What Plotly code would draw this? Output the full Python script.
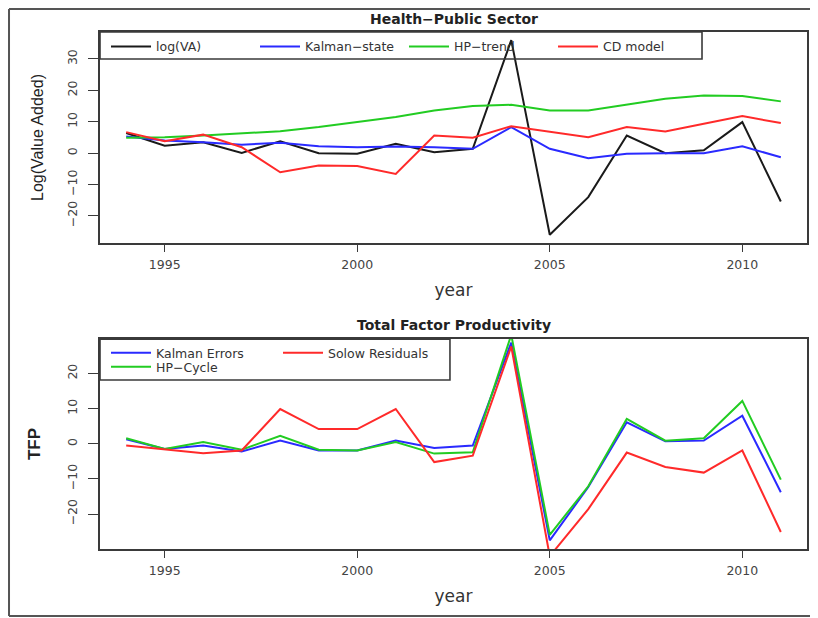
import plotly.graph_objects as go

years = list(range(1994, 2012))

# top panel: Health-Public Sector
log_va = [6.4, 2.4, 3.5, 0.1, 3.8, 0.0, -0.2, 3.0, 0.3, 1.4, 36.0, -26.0, -14.0, 5.6, 0.0, 0.9, 9.9, -15.4]
kalman_state = [5.3, 4.0, 3.5, 2.7, 3.3, 2.2, 1.9, 2.1, 1.9, 1.4, 8.3, 1.4, -1.6, -0.2, 0.0, 0.0, 2.2, -1.3]
hp_trend = [4.9, 5.1, 5.6, 6.2, 7.0, 8.3, 9.9, 11.5, 13.6, 15.0, 15.4, 13.6, 13.6, 15.5, 17.3, 18.4, 18.2, 16.5]
cd_model = [6.7, 3.8, 5.9, 1.9, -6.1, -3.9, -4.1, -6.6, 5.6, 4.9, 8.6, 6.9, 5.1, 8.3, 6.9, 9.4, 11.8, 9.6]

# bottom panel: Total Factor Productivity
kalman_errors = [1.3, -1.5, -0.5, -2.2, 0.9, -1.9, -1.9, 0.9, -1.2, -0.5, 28.8, -27.5, -12.3, 6.1, 0.7, 0.9, 8.0, -13.8]
hp_cycle = [1.6, -1.5, 0.5, -1.7, 2.3, -1.7, -1.9, 0.5, -2.8, -2.4, 31.0, -25.9, -12.1, 7.1, 0.9, 1.6, 12.2, -10.2]
solow_residuals = [-0.5, -1.7, -2.7, -1.9, 9.9, 4.2, 4.2, 9.9, -5.2, -3.4, 27.7, -32.0, -18.6, -2.5, -6.6, -8.2, -1.9, -25.1]

year_ticks = [1995, 2000, 2005, 2010]
FONT = "Liberation Sans"
WIDE = "DejaVu Sans"
BOX = "#3a3a3a"

fig = go.Figure()

top = [("log(VA)", log_va, "#1a1a1a"),
       ("Kalman−state", kalman_state, "#2a2aff"),
       ("HP−trend", hp_trend, "#22cc22"),
       ("CD model", cd_model, "#ff2a2a")]
for name, vals, col in top:
    fig.add_trace(go.Scatter(x=years, y=vals, name=name, mode="lines",
                             line=dict(color=col, width=2),
                             xaxis="x", yaxis="y", legend="legend"))

bottom = [("Kalman Errors", kalman_errors, "#2a2aff", "legend2"),
          ("HP−Cycle", hp_cycle, "#22cc22", "legend3"),
          ("Solow Residuals", solow_residuals, "#ff2a2a", "legend2")]
for name, vals, col, lg in bottom:
    fig.add_trace(go.Scatter(x=years, y=vals, name=name, mode="lines",
                             line=dict(color=col, width=2),
                             xaxis="x2", yaxis="y2", legend=lg))

xax = dict(range=[1993.32, 2011.68], tickvals=year_ticks, showline=True, mirror=True,
           linecolor=BOX, linewidth=1.6, ticks="outside", ticklen=7, tickcolor=BOX,
           showgrid=False, zeroline=False, ticklabelstandoff=2,
           tickfont=dict(family=WIDE, size=12.5, color="#444"),
           title=dict(text="year", font=dict(family=WIDE, size=17, color="#333"), standoff=13))
yax = dict(showline=True, mirror=True, linecolor=BOX, linewidth=1.6, ticks="outside",
           ticklen=10, tickcolor=BOX, showgrid=False, zeroline=False, tickangle=-90,
           ticklabelstandoff=6, tickfont=dict(family=WIDE, size=12.5, color="#444"))

leg = dict(orientation="h", xanchor="left", yanchor="middle", bgcolor="rgba(0,0,0,0)",
           font=dict(family=WIDE, size=12.5, color="#333"), itemwidth=40)

frame = dict(color="#555", width=2)

fig.update_layout(
    width=818, height=618,
    margin=dict(l=92, r=19, t=24, b=77),
    paper_bgcolor="white", plot_bgcolor="white",
    font=dict(family=FONT, color="#222"),
    xaxis=dict(xax, anchor="y"),
    xaxis2=dict(xax, anchor="y2"),
    yaxis=dict(yax, domain=[0.592, 1], range=[-28.6, 38.6], tickvals=[-20, -10, 0, 10, 20, 30],
               anchor="x", title=dict(text="Log(Value Added)", font=dict(size=16, color="#222"), standoff=18)),
    yaxis2=dict(yax, domain=[0, 0.406], range=[-29.95, 29.8], tickvals=[-20, -10, 0, 10, 20],
                anchor="x2", title=dict(text="<b>TFP</b>", font=dict(size=17, color="#222"), standoff=20)),
    legend=dict(leg, x=0.0085, y=0.971, entrywidth=94, entrywidthmode="pixels"),
    legend2=dict(leg, x=0.0085, y=0.379, entrywidth=117, entrywidthmode="pixels"),
    legend3=dict(leg, x=0.0085, y=0.352),
    annotations=[
        dict(text="<b>Health−Public Sector</b>", x=0.5, y=1.025, xref="paper", yref="paper",
             showarrow=False, font=dict(family=WIDE, size=14, color="#222"), yanchor="middle"),
        dict(text="<b>Total Factor Productivity</b>", x=0.5, y=0.433, xref="paper", yref="paper",
             showarrow=False, font=dict(family=WIDE, size=14, color="#222"), yanchor="middle"),
    ],
    shapes=[
        # legend boxes
        dict(type="rect", xref="paper", yref="paper", x0=0, x1=0.8515, y0=0.9478, y1=1.0,
             line=dict(color=BOX, width=1.6), layer="above"),
        dict(type="rect", xref="paper", yref="paper", x0=0, x1=0.495, y0=0.3269, y1=0.406,
             line=dict(color=BOX, width=1.6), layer="above"),
        # outer frame: left, top and bottom edges only
        dict(type="line", xref="paper", yref="paper", x0=-0.1287, x1=-0.1287, y0=-0.1296, y1=1.0445,
             line=frame, layer="above"),
        dict(type="line", xref="paper", yref="paper", x0=-0.1287, x1=1.3, y0=1.0445, y1=1.0445,
             line=frame, layer="above"),
        dict(type="line", xref="paper", yref="paper", x0=-0.1287, x1=1.3, y0=-0.1296, y1=-0.1296,
             line=frame, layer="above"),
    ],
)

fig.write_html("out.html")
